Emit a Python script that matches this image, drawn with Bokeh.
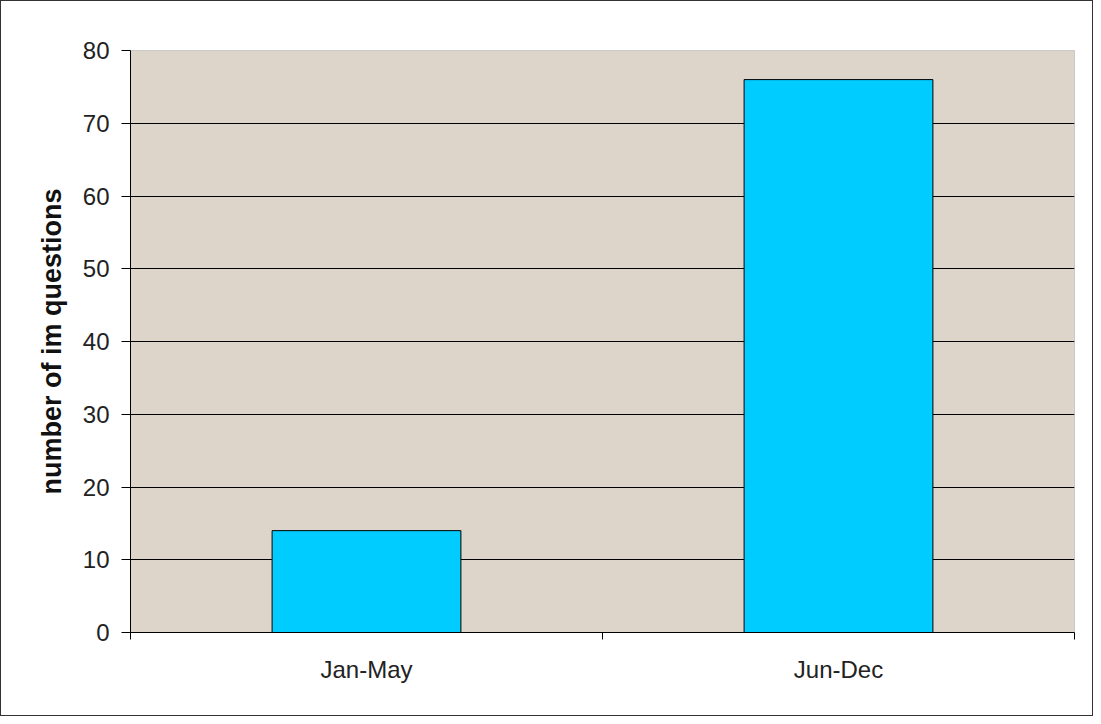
from bokeh.plotting import figure
from bokeh.models import Range1d, FixedTicker, ColumnDataSource
from bokeh.embed import file_html
from bokeh.resources import INLINE

categories = ["Jan-May", "Jun-Dec"]
values = [14, 76]
y_ticks = [0, 10, 20, 30, 40, 50, 60, 70, 80]

xpos = [i + 0.5 for i in range(len(categories))]
src = ColumnDataSource(dict(x=xpos, top=values, cat=categories))

p = figure(width=1093, height=716, output_backend="svg", toolbar_location=None,
           x_range=Range1d(0, len(categories)), y_range=Range1d(0, 80),
           min_border_left=129, min_border_right=20, min_border_top=49, min_border_bottom=85)
p.styles = {"border": "1.5px solid #333", "box-sizing": "border-box"}
p.background_fill_color = "#DDD5C9"
p.border_fill_color = "white"
p.outline_line_color = "#C8C8C8"
p.outline_line_width = 1

p.vbar(x="x", top="top", width=0.4, bottom=0, source=src,
       fill_color="#00CCFF", line_color="black", line_width=1)

p.xgrid.visible = False
p.ygrid.ticker = FixedTicker(ticks=y_ticks[1:-1])
p.ygrid.grid_line_color = "black"
p.ygrid.grid_line_width = 1

xa = p.xaxis[0]
xa.ticker = FixedTicker(ticks=xpos, minor_ticks=list(range(len(categories) + 1)))
xa.major_label_overrides = {x: c for x, c in zip(xpos, categories)}
xa.major_tick_line_color = None
xa.minor_tick_in = 0
xa.minor_tick_out = 7
xa.minor_tick_line_color = "black"
xa.axis_line_color = "black"
xa.major_label_text_font = "Liberation Sans"
xa.major_label_text_font_size = "24px"
xa.major_label_text_color = "#222222"
xa.major_label_standoff = 16

ya = p.yaxis[0]
ya.ticker = FixedTicker(ticks=y_ticks)
ya.minor_tick_line_color = None
ya.major_tick_in = 0
ya.major_tick_out = 9
ya.major_tick_line_color = "black"
ya.axis_line_color = "black"
ya.major_label_text_font = "Liberation Sans"
ya.major_label_text_font_size = "24px"
ya.major_label_text_color = "#222222"
ya.major_label_standoff = 12
ya.axis_label = "number of im questions"
ya.axis_label_text_font = "Liberation Sans"
ya.axis_label_text_font_size = "27px"
ya.axis_label_text_font_style = "bold"
ya.axis_label_text_color = "#111111"
ya.axis_label_standoff = 13

open("out.html", "w").write(file_html(p, INLINE))
